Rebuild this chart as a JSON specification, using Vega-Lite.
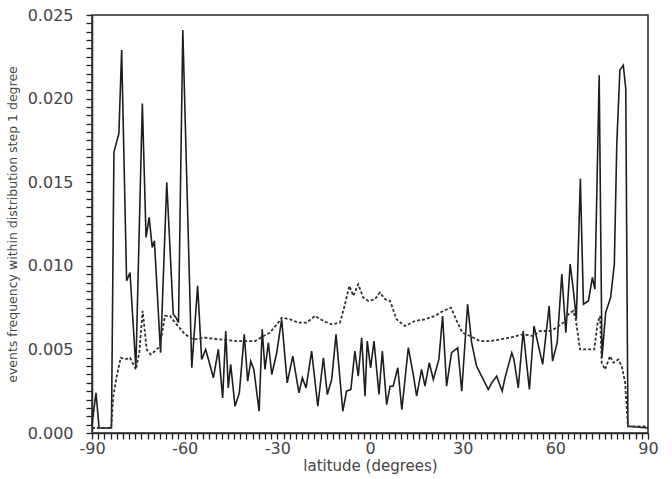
{
  "$schema": "https://vega.github.io/schema/vega-lite/v6.json",
  "width": 556,
  "height": 418,
  "autosize": "none",
  "padding": {"left": 92, "top": 15, "right": 24, "bottom": 46},
  "background": "white",
  "config": {
    "view": {"stroke": "#2a2a2a", "strokeWidth": 1.5}
  },
  "datasets": {
    "solid": [
      {"lat": -90, "v": 0.0005}, {"lat": -88.7, "v": 0.0024}, {"lat": -87.7, "v": 0.0003}, {"lat": -84.0, "v": 0.0003},
      {"lat": -83.7, "v": 0.0003}, {"lat": -82.9, "v": 0.0168}, {"lat": -81.3, "v": 0.0179}, {"lat": -80.4, "v": 0.0229},
      {"lat": -78.8, "v": 0.0091}, {"lat": -77.7, "v": 0.0096}, {"lat": -75.8, "v": 0.0039}, {"lat": -73.7, "v": 0.0197},
      {"lat": -72.5, "v": 0.0117}, {"lat": -71.5, "v": 0.0129}, {"lat": -70.5, "v": 0.0111}, {"lat": -69.8, "v": 0.0115},
      {"lat": -67.8, "v": 0.0048}, {"lat": -65.8, "v": 0.0150}, {"lat": -63.7, "v": 0.0071}, {"lat": -62.8, "v": 0.0069},
      {"lat": -62.0, "v": 0.0066}, {"lat": -60.6, "v": 0.0241}, {"lat": -57.7, "v": 0.0039}, {"lat": -55.8, "v": 0.0088},
      {"lat": -54.5, "v": 0.0044}, {"lat": -53.2, "v": 0.0050}, {"lat": -52.3, "v": 0.0044}, {"lat": -50.7, "v": 0.0033},
      {"lat": -49.1, "v": 0.0050}, {"lat": -47.7, "v": 0.0021}, {"lat": -46.7, "v": 0.0061}, {"lat": -45.9, "v": 0.0027},
      {"lat": -45.1, "v": 0.0041}, {"lat": -43.7, "v": 0.0016}, {"lat": -42.3, "v": 0.0024}, {"lat": -40.7, "v": 0.0059},
      {"lat": -39.6, "v": 0.0031}, {"lat": -38.6, "v": 0.0043}, {"lat": -37.6, "v": 0.0038}, {"lat": -35.9, "v": 0.0013},
      {"lat": -34.9, "v": 0.0062}, {"lat": -34.0, "v": 0.0038}, {"lat": -32.9, "v": 0.0054}, {"lat": -31.8, "v": 0.0035},
      {"lat": -30.2, "v": 0.0048}, {"lat": -28.6, "v": 0.0068}, {"lat": -26.8, "v": 0.0030}, {"lat": -25.0, "v": 0.0046},
      {"lat": -23.0, "v": 0.0024}, {"lat": -21.9, "v": 0.0033}, {"lat": -20.7, "v": 0.0027}, {"lat": -18.9, "v": 0.0049},
      {"lat": -16.9, "v": 0.0016}, {"lat": -15.1, "v": 0.0045}, {"lat": -13.8, "v": 0.0023}, {"lat": -12.4, "v": 0.0032},
      {"lat": -11.0, "v": 0.0059}, {"lat": -8.8, "v": 0.0013}, {"lat": -7.6, "v": 0.0025}, {"lat": -6.2, "v": 0.0026},
      {"lat": -4.9, "v": 0.0049}, {"lat": -3.8, "v": 0.0034}, {"lat": -2.7, "v": 0.0057}, {"lat": -1.6, "v": 0.0022},
      {"lat": -0.9, "v": 0.0055}, {"lat": 0.2, "v": 0.0039}, {"lat": 1.3, "v": 0.0055}, {"lat": 2.9, "v": 0.0023},
      {"lat": 4.0, "v": 0.0049}, {"lat": 5.4, "v": 0.0017}, {"lat": 6.5, "v": 0.0028}, {"lat": 7.5, "v": 0.0028},
      {"lat": 9.0, "v": 0.0039}, {"lat": 10.3, "v": 0.0014}, {"lat": 12.4, "v": 0.0051}, {"lat": 14.0, "v": 0.0035},
      {"lat": 15.1, "v": 0.0022}, {"lat": 16.7, "v": 0.0038}, {"lat": 17.8, "v": 0.0028}, {"lat": 19.2, "v": 0.0042},
      {"lat": 20.5, "v": 0.0032}, {"lat": 22.3, "v": 0.0044}, {"lat": 23.5, "v": 0.0070}, {"lat": 24.8, "v": 0.0028},
      {"lat": 26.4, "v": 0.0048}, {"lat": 28.4, "v": 0.0051}, {"lat": 29.7, "v": 0.0025}, {"lat": 31.6, "v": 0.0077},
      {"lat": 32.9, "v": 0.0054}, {"lat": 34.5, "v": 0.0040}, {"lat": 35.6, "v": 0.0036}, {"lat": 38.3, "v": 0.0026},
      {"lat": 39.4, "v": 0.0030}, {"lat": 41.0, "v": 0.0034}, {"lat": 42.8, "v": 0.0025}, {"lat": 43.7, "v": 0.0033},
      {"lat": 45.9, "v": 0.0048}, {"lat": 46.6, "v": 0.0044}, {"lat": 48.0, "v": 0.0027}, {"lat": 49.6, "v": 0.0061},
      {"lat": 51.6, "v": 0.0026}, {"lat": 53.1, "v": 0.0064}, {"lat": 55.9, "v": 0.0041}, {"lat": 58.0, "v": 0.0076},
      {"lat": 59.1, "v": 0.0043}, {"lat": 60.6, "v": 0.0054}, {"lat": 62.1, "v": 0.0095}, {"lat": 63.4, "v": 0.0060},
      {"lat": 64.8, "v": 0.0101}, {"lat": 65.8, "v": 0.0086}, {"lat": 66.8, "v": 0.0068}, {"lat": 68.1, "v": 0.0152},
      {"lat": 69.1, "v": 0.0077}, {"lat": 70.7, "v": 0.0079}, {"lat": 72.0, "v": 0.0093}, {"lat": 72.8, "v": 0.0086},
      {"lat": 74.2, "v": 0.0214}, {"lat": 75.1, "v": 0.0045}, {"lat": 76.3, "v": 0.0072}, {"lat": 77.9, "v": 0.0081},
      {"lat": 79.1, "v": 0.0101}, {"lat": 79.9, "v": 0.0173}, {"lat": 80.9, "v": 0.0217}, {"lat": 82.0, "v": 0.0220},
      {"lat": 82.8, "v": 0.0206}, {"lat": 83.5, "v": 0.0004}, {"lat": 90, "v": 0.0003}
    ],
    "dotted": [
      {"lat": -90, "v": 0.0003}, {"lat": -83.8, "v": 0.0003}, {"lat": -83.1, "v": 0.0022}, {"lat": -82.0, "v": 0.0034},
      {"lat": -80.7, "v": 0.0045}, {"lat": -79.3, "v": 0.0044}, {"lat": -77.7, "v": 0.0045}, {"lat": -75.8, "v": 0.0038},
      {"lat": -74.7, "v": 0.0048}, {"lat": -73.6, "v": 0.0073}, {"lat": -72.3, "v": 0.0050}, {"lat": -71.0, "v": 0.0047},
      {"lat": -69.6, "v": 0.0049}, {"lat": -68.0, "v": 0.0052}, {"lat": -66.4, "v": 0.0070}, {"lat": -64.7, "v": 0.0070},
      {"lat": -63.1, "v": 0.0066}, {"lat": -61.7, "v": 0.0063}, {"lat": -59.9, "v": 0.0059}, {"lat": -57.2, "v": 0.0056},
      {"lat": -53.4, "v": 0.0057}, {"lat": -49.1, "v": 0.0056}, {"lat": -43.2, "v": 0.0055}, {"lat": -37.2, "v": 0.0055},
      {"lat": -34.5, "v": 0.0058}, {"lat": -32.4, "v": 0.0060}, {"lat": -29.7, "v": 0.0066}, {"lat": -28.6, "v": 0.0069},
      {"lat": -25.9, "v": 0.0068}, {"lat": -23.2, "v": 0.0066}, {"lat": -20.5, "v": 0.0066}, {"lat": -17.8, "v": 0.0070},
      {"lat": -15.1, "v": 0.0067}, {"lat": -12.4, "v": 0.0065}, {"lat": -9.7, "v": 0.0066}, {"lat": -8.1, "v": 0.0077},
      {"lat": -6.7, "v": 0.0088}, {"lat": -5.4, "v": 0.0082}, {"lat": -3.8, "v": 0.0089}, {"lat": -2.2, "v": 0.0081},
      {"lat": -0.5, "v": 0.0079}, {"lat": 1.6, "v": 0.0080}, {"lat": 3.2, "v": 0.0084}, {"lat": 4.9, "v": 0.0080},
      {"lat": 6.5, "v": 0.0079}, {"lat": 8.6, "v": 0.0068}, {"lat": 11.3, "v": 0.0064}, {"lat": 14.6, "v": 0.0067},
      {"lat": 17.8, "v": 0.0068}, {"lat": 21.0, "v": 0.0070}, {"lat": 23.7, "v": 0.0073}, {"lat": 26.2, "v": 0.0075},
      {"lat": 28.1, "v": 0.0067}, {"lat": 29.9, "v": 0.0060}, {"lat": 32.4, "v": 0.0058}, {"lat": 35.6, "v": 0.0055},
      {"lat": 38.9, "v": 0.0055}, {"lat": 42.1, "v": 0.0056}, {"lat": 45.3, "v": 0.0057}, {"lat": 49.6, "v": 0.0059},
      {"lat": 52.9, "v": 0.0058}, {"lat": 55.0, "v": 0.0061}, {"lat": 58.3, "v": 0.0061}, {"lat": 60.4, "v": 0.0063},
      {"lat": 62.6, "v": 0.0066}, {"lat": 64.2, "v": 0.0071}, {"lat": 65.8, "v": 0.0073}, {"lat": 66.6, "v": 0.0068},
      {"lat": 68.0, "v": 0.0050}, {"lat": 69.6, "v": 0.0050}, {"lat": 72.6, "v": 0.0050}, {"lat": 73.7, "v": 0.0066},
      {"lat": 74.5, "v": 0.0070}, {"lat": 75.0, "v": 0.0042}, {"lat": 76.1, "v": 0.0038}, {"lat": 77.7, "v": 0.0046},
      {"lat": 78.8, "v": 0.0042}, {"lat": 80.4, "v": 0.0044}, {"lat": 81.5, "v": 0.0040}, {"lat": 82.6, "v": 0.0030},
      {"lat": 83.5, "v": 0.0004}, {"lat": 90, "v": 0.0004}
    ]
  },
  "encoding": {
    "x": {
      "field": "lat",
      "type": "quantitative",
      "scale": {"domain": [-90, 90], "nice": false, "zero": false},
      "axis": {
        "title": "latitude (degrees)",
        "titleFont": "DejaVu Sans",
        "titleFontWeight": "normal",
        "titleColor": "#444",
        "titleFontSize": 15,
        "titlePadding": 2,
        "grid": false,
        "domainColor": "#2a2a2a",
        "domainWidth": 1.5,
        "tickSize": 6,
        "tickWidth": 1.3,
        "tickColor": "#222",
        "values": [-90,-88,-86,-84,-82,-80,-78,-76,-74,-72,-70,-68,-66,-64,-62,-60,-58,-56,-54,-52,-50,-48,-46,-44,-42,-40,-38,-36,-34,-32,-30,-28,-26,-24,-22,-20,-18,-16,-14,-12,-10,-8,-6,-4,-2,0,2,4,6,8,10,12,14,16,18,20,22,24,26,28,30,32,34,36,38,40,42,44,46,48,50,52,54,56,58,60,62,64,66,68,70,72,74,76,78,80,82,84,86,88,90],
        "labelExpr": "datum.value % 30 == 0 ? '' + datum.value : ''",
        "labelFont": "DejaVu Sans",
        "labelFontSize": 16,
        "labelColor": "#444",
        "labelPadding": 1,
        "labelFlush": false,
        "labelOverlap": false
      }
    },
    "y": {
      "field": "v",
      "type": "quantitative",
      "scale": {"domain": [0, 0.025], "nice": false},
      "axis": {
        "title": "events frequency within distribution step 1 degree",
        "titleFont": "DejaVu Sans",
        "titleFontWeight": "normal",
        "titleColor": "#444",
        "titleFontSize": 12.5,
        "titlePadding": 8,
        "grid": false,
        "domainColor": "#2a2a2a",
        "domainWidth": 1.5,
        "tickSize": 6,
        "tickWidth": 1.3,
        "tickColor": "#222",
        "values": [0,0.0005,0.001,0.0015,0.002,0.0025,0.003,0.0035,0.004,0.0045,0.005,0.0055,0.006,0.0065,0.007,0.0075,0.008,0.0085,0.009,0.0095,0.01,0.0105,0.011,0.0115,0.012,0.0125,0.013,0.0135,0.014,0.0145,0.015,0.0155,0.016,0.0165,0.017,0.0175,0.018,0.0185,0.019,0.0195,0.02,0.0205,0.021,0.0215,0.022,0.0225,0.023,0.0235,0.024,0.0245,0.025],
        "labelExpr": "round(datum.value * 10000) % 50 == 0 ? format(datum.value, '.3f') : ''",
        "labelFont": "DejaVu Sans",
        "labelFontSize": 16,
        "labelColor": "#444",
        "labelPadding": 13,
        "labelOverlap": false,
        "labelFlush": false
      }
    }
  },
  "layer": [
    {
      "data": {"name": "solid"},
      "mark": {"type": "line", "color": "#1e1e1e", "strokeWidth": 1.6, "strokeJoin": "miter"}
    },
    {
      "data": {"name": "dotted"},
      "mark": {"type": "line", "color": "#333", "strokeWidth": 1.8, "strokeDash": [3, 2]}
    }
  ]
}
